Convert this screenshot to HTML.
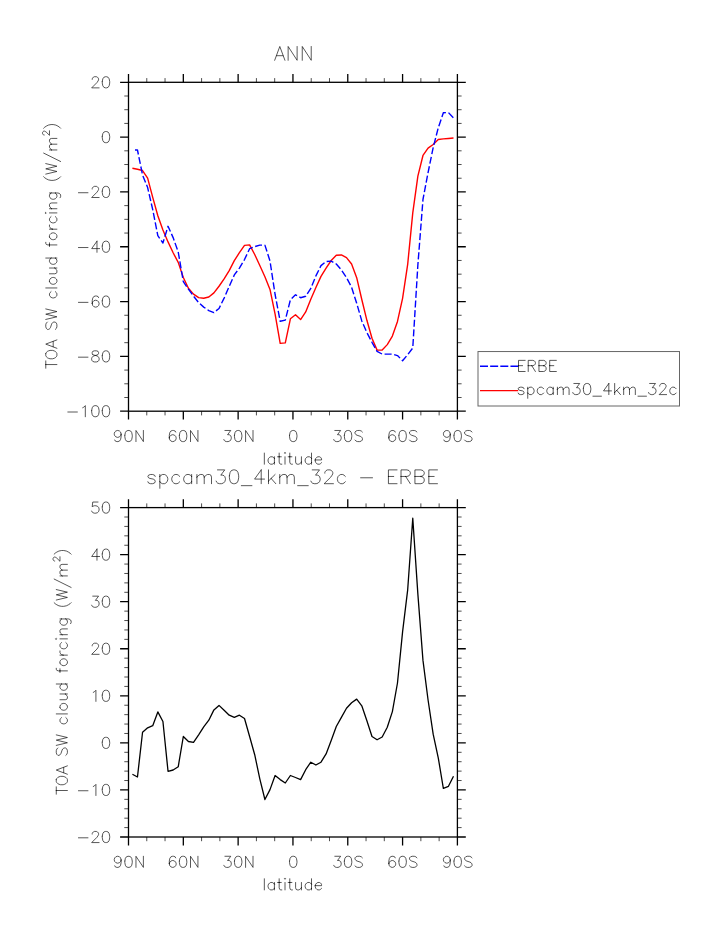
<!DOCTYPE html>
<html><head><meta charset="utf-8"><title>ANN</title>
<style>html,body{margin:0;padding:0;background:#fff}svg{display:block}body{font-family:"Liberation Sans",sans-serif}</style></head>
<body>
<svg width="723" height="935" viewBox="0 0 723 935">
<rect width="723" height="935" fill="#fff"/>
<path d="M128.50 82.30 V73.90 M128.50 411.20 V419.60 M183.32 82.30 V73.90 M183.32 411.20 V419.60 M238.13 82.30 V73.90 M238.13 411.20 V419.60 M292.95 82.30 V73.90 M292.95 411.20 V419.60 M347.77 82.30 V73.90 M347.77 411.20 V419.60 M402.58 82.30 V73.90 M402.58 411.20 V419.60 M457.40 82.30 V73.90 M457.40 411.20 V419.60 M128.50 82.30 H120.10 M457.40 82.30 H465.80 M128.50 137.12 H120.10 M457.40 137.12 H465.80 M128.50 191.93 H120.10 M457.40 191.93 H465.80 M128.50 246.75 H120.10 M457.40 246.75 H465.80 M128.50 301.57 H120.10 M457.40 301.57 H465.80 M128.50 356.38 H120.10 M457.40 356.38 H465.80 M128.50 411.20 H120.10 M457.40 411.20 H465.80" stroke="#000" stroke-width="1.3" fill="none"/>
<path d="M146.77 82.30 V78.10 M146.77 411.20 V415.40 M165.04 82.30 V78.10 M165.04 411.20 V415.40 M201.59 82.30 V78.10 M201.59 411.20 V415.40 M219.86 82.30 V78.10 M219.86 411.20 V415.40 M256.41 82.30 V78.10 M256.41 411.20 V415.40 M274.68 82.30 V78.10 M274.68 411.20 V415.40 M311.22 82.30 V78.10 M311.22 411.20 V415.40 M329.49 82.30 V78.10 M329.49 411.20 V415.40 M366.04 82.30 V78.10 M366.04 411.20 V415.40 M384.31 82.30 V78.10 M384.31 411.20 V415.40 M420.86 82.30 V78.10 M420.86 411.20 V415.40 M439.13 82.30 V78.10 M439.13 411.20 V415.40 M128.50 96.00 H124.30 M457.40 96.00 H461.60 M128.50 109.71 H124.30 M457.40 109.71 H461.60 M128.50 123.41 H124.30 M457.40 123.41 H461.60 M128.50 150.82 H124.30 M457.40 150.82 H461.60 M128.50 164.53 H124.30 M457.40 164.53 H461.60 M128.50 178.23 H124.30 M457.40 178.23 H461.60 M128.50 205.64 H124.30 M457.40 205.64 H461.60 M128.50 219.34 H124.30 M457.40 219.34 H461.60 M128.50 233.05 H124.30 M457.40 233.05 H461.60 M128.50 260.45 H124.30 M457.40 260.45 H461.60 M128.50 274.16 H124.30 M457.40 274.16 H461.60 M128.50 287.86 H124.30 M457.40 287.86 H461.60 M128.50 315.27 H124.30 M457.40 315.27 H461.60 M128.50 328.98 H124.30 M457.40 328.98 H461.60 M128.50 342.68 H124.30 M457.40 342.68 H461.60 M128.50 370.09 H124.30 M457.40 370.09 H461.60 M128.50 383.79 H124.30 M457.40 383.79 H461.60 M128.50 397.50 H124.30 M457.40 397.50 H461.60" stroke="#000" stroke-width="0.7" fill="none"/>
<rect x="128.50" y="82.30" width="328.90" height="328.90" fill="none" stroke="#000" stroke-width="1.3"/>
<path d="M92.21 79.38 L92.21 78.85 L92.74 77.79 L93.27 77.26 L94.33 76.73 L96.45 76.73 L97.51 77.26 L98.04 77.79 L98.57 78.85 L98.57 79.91 L98.04 80.97 L96.98 82.56 L91.68 87.86 L99.10 87.86 M102.28 81.50 L102.28 83.09 L102.81 85.74 L103.87 87.33 L105.46 87.86 L106.52 87.86 L108.11 87.33 L109.17 85.74 L109.70 83.09 L109.70 81.50 L109.17 78.85 L108.11 77.26 L106.52 76.73 L105.46 76.73 L103.87 77.26 L102.81 78.85 L102.28 81.50" fill="none" stroke="#000" stroke-width="0.66" stroke-linecap="round" stroke-linejoin="round"/>
<path d="M102.28 136.32 L102.28 137.91 L102.81 140.56 L103.87 142.15 L105.46 142.68 L106.52 142.68 L108.11 142.15 L109.17 140.56 L109.70 137.91 L109.70 136.32 L109.17 133.67 L108.11 132.08 L106.52 131.55 L105.46 131.55 L103.87 132.08 L102.81 133.67 L102.28 136.32" fill="none" stroke="#000" stroke-width="0.66" stroke-linecap="round" stroke-linejoin="round"/>
<path d="M78.43 192.73 L87.97 192.73 M92.21 189.02 L92.21 188.49 L92.74 187.43 L93.27 186.90 L94.33 186.37 L96.45 186.37 L97.51 186.90 L98.04 187.43 L98.57 188.49 L98.57 189.55 L98.04 190.61 L96.98 192.20 L91.68 197.50 L99.10 197.50 M102.28 191.14 L102.28 192.73 L102.81 195.38 L103.87 196.97 L105.46 197.50 L106.52 197.50 L108.11 196.97 L109.17 195.38 L109.70 192.73 L109.70 191.14 L109.17 188.49 L108.11 186.90 L106.52 186.37 L105.46 186.37 L103.87 186.90 L102.81 188.49 L102.28 191.14" fill="none" stroke="#000" stroke-width="0.66" stroke-linecap="round" stroke-linejoin="round"/>
<path d="M78.43 247.54 L87.97 247.54 M96.98 241.19 L91.68 248.60 L99.63 248.60 M96.98 241.19 L96.98 252.31 M102.28 245.95 L102.28 247.54 L102.81 250.19 L103.87 251.78 L105.46 252.31 L106.52 252.31 L108.11 251.78 L109.17 250.19 L109.70 247.54 L109.70 245.95 L109.17 243.31 L108.11 241.72 L106.52 241.19 L105.46 241.19 L103.87 241.72 L102.81 243.31 L102.28 245.95" fill="none" stroke="#000" stroke-width="0.66" stroke-linecap="round" stroke-linejoin="round"/>
<path d="M78.43 302.36 L87.97 302.36 M92.21 303.42 L92.21 300.77 L92.74 298.12 L93.80 296.53 L95.39 296.00 L96.45 296.00 L98.04 296.53 L98.57 297.59 M92.21 303.42 L92.74 305.54 L93.80 306.60 L95.39 307.13 L95.92 307.13 L97.51 306.60 L98.57 305.54 L99.10 303.95 L99.10 303.42 L98.57 301.83 L97.51 300.77 L95.92 300.24 L95.39 300.24 L93.80 300.77 L92.74 301.83 L92.21 303.42 M102.28 300.77 L102.28 302.36 L102.81 305.01 L103.87 306.60 L105.46 307.13 L106.52 307.13 L108.11 306.60 L109.17 305.01 L109.70 302.36 L109.70 300.77 L109.17 298.12 L108.11 296.53 L106.52 296.00 L105.46 296.00 L103.87 296.53 L102.81 298.12 L102.28 300.77" fill="none" stroke="#000" stroke-width="0.66" stroke-linecap="round" stroke-linejoin="round"/>
<path d="M78.43 357.18 L87.97 357.18 M92.74 354.53 L92.21 353.47 L92.21 352.41 L92.74 351.35 L94.33 350.82 L96.45 350.82 L98.04 351.35 L98.57 352.41 L98.57 353.47 L98.04 354.53 L96.98 355.06 L94.86 355.59 L93.27 356.12 L92.21 357.18 L91.68 358.24 L91.68 359.83 L92.21 360.89 L92.74 361.42 L94.33 361.95 L96.45 361.95 L98.04 361.42 L98.57 360.89 L99.10 359.83 L99.10 358.24 L98.57 357.18 L97.51 356.12 L95.92 355.59 L93.80 355.06 L92.74 354.53 M102.28 355.59 L102.28 357.18 L102.81 359.83 L103.87 361.42 L105.46 361.95 L106.52 361.95 L108.11 361.42 L109.17 359.83 L109.70 357.18 L109.70 355.59 L109.17 352.94 L108.11 351.35 L106.52 350.82 L105.46 350.82 L103.87 351.35 L102.81 352.94 L102.28 355.59" fill="none" stroke="#000" stroke-width="0.66" stroke-linecap="round" stroke-linejoin="round"/>
<path d="M67.83 412.00 L77.37 412.00 M82.67 407.75 L83.73 407.22 L85.32 405.63 L85.32 416.76 M91.68 410.40 L91.68 412.00 L92.21 414.64 L93.27 416.24 L94.86 416.76 L95.92 416.76 L97.51 416.24 L98.57 414.64 L99.10 412.00 L99.10 410.40 L98.57 407.75 L97.51 406.16 L95.92 405.63 L94.86 405.63 L93.27 406.16 L92.21 407.75 L91.68 410.40 M102.28 410.40 L102.28 412.00 L102.81 414.64 L103.87 416.24 L105.46 416.76 L106.52 416.76 L108.11 416.24 L109.17 414.64 L109.70 412.00 L109.70 410.40 L109.17 407.75 L108.11 406.16 L106.52 405.63 L105.46 405.63 L103.87 406.16 L102.81 407.75 L102.28 410.40" fill="none" stroke="#000" stroke-width="0.66" stroke-linecap="round" stroke-linejoin="round"/>
<path d="M114.76 440.01 L115.29 441.07 L116.88 441.60 L117.94 441.60 L119.53 441.07 L120.59 439.48 L121.12 436.83 L121.12 434.18 M121.12 434.18 L120.59 435.77 L119.53 436.83 L117.94 437.36 L117.41 437.36 L115.82 436.83 L114.76 435.77 L114.23 434.18 L114.23 433.65 L114.76 432.06 L115.82 431.00 L117.41 430.47 L117.94 430.47 L119.53 431.00 L120.59 432.06 L121.12 434.18 M124.83 435.24 L124.83 436.83 L125.36 439.48 L126.42 441.07 L128.01 441.60 L129.06 441.60 L130.66 441.07 L131.72 439.48 L132.25 436.83 L132.25 435.24 L131.72 432.59 L130.66 431.00 L129.06 430.47 L128.01 430.47 L126.42 431.00 L125.36 432.59 L124.83 435.24 M135.96 441.60 L135.96 430.47 L143.38 441.60 L143.38 430.47" fill="none" stroke="#000" stroke-width="0.66" stroke-linecap="round" stroke-linejoin="round"/>
<path d="M169.31 437.89 L169.31 435.24 L169.84 432.59 L170.90 431.00 L172.49 430.47 L173.55 430.47 L175.14 431.00 L175.67 432.06 M169.31 437.89 L169.84 440.01 L170.90 441.07 L172.49 441.60 L173.02 441.60 L174.61 441.07 L175.67 440.01 L176.20 438.42 L176.20 437.89 L175.67 436.30 L174.61 435.24 L173.02 434.71 L172.49 434.71 L170.90 435.24 L169.84 436.30 L169.31 437.89 M179.38 435.24 L179.38 436.83 L179.91 439.48 L180.97 441.07 L182.56 441.60 L183.62 441.60 L185.21 441.07 L186.27 439.48 L186.80 436.83 L186.80 435.24 L186.27 432.59 L185.21 431.00 L183.62 430.47 L182.56 430.47 L180.97 431.00 L179.91 432.59 L179.38 435.24 M190.51 441.60 L190.51 430.47 L197.93 441.60 L197.93 430.47" fill="none" stroke="#000" stroke-width="0.66" stroke-linecap="round" stroke-linejoin="round"/>
<path d="M223.86 439.48 L224.39 440.54 L224.92 441.07 L226.51 441.60 L228.10 441.60 L229.69 441.07 L230.75 440.01 L231.28 438.42 L231.28 437.36 L230.75 435.77 L230.22 435.24 L229.16 434.71 L227.57 434.71 L230.75 430.47 L224.92 430.47 M234.46 435.24 L234.46 436.83 L234.99 439.48 L236.05 441.07 L237.64 441.60 L238.70 441.60 L240.29 441.07 L241.35 439.48 L241.88 436.83 L241.88 435.24 L241.35 432.59 L240.29 431.00 L238.70 430.47 L237.64 430.47 L236.05 431.00 L234.99 432.59 L234.46 435.24 M245.59 441.60 L245.59 430.47 L253.01 441.60 L253.01 430.47" fill="none" stroke="#000" stroke-width="0.66" stroke-linecap="round" stroke-linejoin="round"/>
<path d="M289.54 435.24 L289.54 436.83 L290.07 439.48 L291.13 441.07 L292.72 441.60 L293.78 441.60 L295.37 441.07 L296.43 439.48 L296.96 436.83 L296.96 435.24 L296.43 432.59 L295.37 431.00 L293.78 430.47 L292.72 430.47 L291.13 431.00 L290.07 432.59 L289.54 435.24" fill="none" stroke="#000" stroke-width="0.66" stroke-linecap="round" stroke-linejoin="round"/>
<path d="M333.76 439.48 L334.29 440.54 L334.82 441.07 L336.41 441.60 L338.00 441.60 L339.59 441.07 L340.65 440.01 L341.18 438.42 L341.18 437.36 L340.65 435.77 L340.12 435.24 L339.06 434.71 L337.47 434.71 L340.65 430.47 L334.82 430.47 M344.36 435.24 L344.36 436.83 L344.89 439.48 L345.95 441.07 L347.54 441.60 L348.60 441.60 L350.19 441.07 L351.25 439.48 L351.78 436.83 L351.78 435.24 L351.25 432.59 L350.19 431.00 L348.60 430.47 L347.54 430.47 L345.95 431.00 L344.89 432.59 L344.36 435.24 M354.96 440.01 L356.02 441.07 L357.61 441.60 L359.73 441.60 L361.32 441.07 L362.38 440.01 L362.38 438.42 L361.85 437.36 L361.32 436.83 L360.26 436.30 L357.08 435.24 L356.02 434.71 L355.49 434.18 L354.96 433.12 L354.96 432.06 L356.02 431.00 L357.61 430.47 L359.73 430.47 L361.32 431.00 L362.38 432.06" fill="none" stroke="#000" stroke-width="0.66" stroke-linecap="round" stroke-linejoin="round"/>
<path d="M388.84 437.89 L388.84 435.24 L389.37 432.59 L390.43 431.00 L392.02 430.47 L393.08 430.47 L394.67 431.00 L395.20 432.06 M388.84 437.89 L389.37 440.01 L390.43 441.07 L392.02 441.60 L392.55 441.60 L394.14 441.07 L395.20 440.01 L395.73 438.42 L395.73 437.89 L395.20 436.30 L394.14 435.24 L392.55 434.71 L392.02 434.71 L390.43 435.24 L389.37 436.30 L388.84 437.89 M398.91 435.24 L398.91 436.83 L399.44 439.48 L400.50 441.07 L402.09 441.60 L403.15 441.60 L404.74 441.07 L405.80 439.48 L406.33 436.83 L406.33 435.24 L405.80 432.59 L404.74 431.00 L403.15 430.47 L402.09 430.47 L400.50 431.00 L399.44 432.59 L398.91 435.24 M409.51 440.01 L410.57 441.07 L412.16 441.60 L414.28 441.60 L415.87 441.07 L416.93 440.01 L416.93 438.42 L416.40 437.36 L415.87 436.83 L414.81 436.30 L411.63 435.24 L410.57 434.71 L410.04 434.18 L409.51 433.12 L409.51 432.06 L410.57 431.00 L412.16 430.47 L414.28 430.47 L415.87 431.00 L416.93 432.06" fill="none" stroke="#000" stroke-width="0.66" stroke-linecap="round" stroke-linejoin="round"/>
<path d="M443.92 440.01 L444.45 441.07 L446.04 441.60 L447.10 441.60 L448.69 441.07 L449.75 439.48 L450.28 436.83 L450.28 434.18 M450.28 434.18 L449.75 435.77 L448.69 436.83 L447.10 437.36 L446.57 437.36 L444.98 436.83 L443.92 435.77 L443.39 434.18 L443.39 433.65 L443.92 432.06 L444.98 431.00 L446.57 430.47 L447.10 430.47 L448.69 431.00 L449.75 432.06 L450.28 434.18 M453.99 435.24 L453.99 436.83 L454.52 439.48 L455.58 441.07 L457.17 441.60 L458.23 441.60 L459.82 441.07 L460.88 439.48 L461.41 436.83 L461.41 435.24 L460.88 432.59 L459.82 431.00 L458.23 430.47 L457.17 430.47 L455.58 431.00 L454.52 432.59 L453.99 435.24 M464.59 440.01 L465.65 441.07 L467.24 441.60 L469.36 441.60 L470.95 441.07 L472.01 440.01 L472.01 438.42 L471.48 437.36 L470.95 436.83 L469.89 436.30 L466.71 435.24 L465.65 434.71 L465.12 434.18 L464.59 433.12 L464.59 432.06 L465.65 431.00 L467.24 430.47 L469.36 430.47 L470.95 431.00 L472.01 432.06" fill="none" stroke="#000" stroke-width="0.66" stroke-linecap="round" stroke-linejoin="round"/>
<path d="M128.50 507.60 V499.20 M128.50 837.00 V845.40 M183.32 507.60 V499.20 M183.32 837.00 V845.40 M238.13 507.60 V499.20 M238.13 837.00 V845.40 M292.95 507.60 V499.20 M292.95 837.00 V845.40 M347.77 507.60 V499.20 M347.77 837.00 V845.40 M402.58 507.60 V499.20 M402.58 837.00 V845.40 M457.40 507.60 V499.20 M457.40 837.00 V845.40 M128.50 507.60 H120.10 M457.40 507.60 H465.80 M128.50 554.66 H120.10 M457.40 554.66 H465.80 M128.50 601.71 H120.10 M457.40 601.71 H465.80 M128.50 648.77 H120.10 M457.40 648.77 H465.80 M128.50 695.83 H120.10 M457.40 695.83 H465.80 M128.50 742.89 H120.10 M457.40 742.89 H465.80 M128.50 789.94 H120.10 M457.40 789.94 H465.80 M128.50 837.00 H120.10 M457.40 837.00 H465.80" stroke="#000" stroke-width="1.3" fill="none"/>
<path d="M146.77 507.60 V503.40 M146.77 837.00 V841.20 M165.04 507.60 V503.40 M165.04 837.00 V841.20 M201.59 507.60 V503.40 M201.59 837.00 V841.20 M219.86 507.60 V503.40 M219.86 837.00 V841.20 M256.41 507.60 V503.40 M256.41 837.00 V841.20 M274.68 507.60 V503.40 M274.68 837.00 V841.20 M311.22 507.60 V503.40 M311.22 837.00 V841.20 M329.49 507.60 V503.40 M329.49 837.00 V841.20 M366.04 507.60 V503.40 M366.04 837.00 V841.20 M384.31 507.60 V503.40 M384.31 837.00 V841.20 M420.86 507.60 V503.40 M420.86 837.00 V841.20 M439.13 507.60 V503.40 M439.13 837.00 V841.20 M128.50 517.01 H124.30 M457.40 517.01 H461.60 M128.50 526.42 H124.30 M457.40 526.42 H461.60 M128.50 535.83 H124.30 M457.40 535.83 H461.60 M128.50 545.25 H124.30 M457.40 545.25 H461.60 M128.50 564.07 H124.30 M457.40 564.07 H461.60 M128.50 573.48 H124.30 M457.40 573.48 H461.60 M128.50 582.89 H124.30 M457.40 582.89 H461.60 M128.50 592.30 H124.30 M457.40 592.30 H461.60 M128.50 611.13 H124.30 M457.40 611.13 H461.60 M128.50 620.54 H124.30 M457.40 620.54 H461.60 M128.50 629.95 H124.30 M457.40 629.95 H461.60 M128.50 639.36 H124.30 M457.40 639.36 H461.60 M128.50 658.18 H124.30 M457.40 658.18 H461.60 M128.50 667.59 H124.30 M457.40 667.59 H461.60 M128.50 677.01 H124.30 M457.40 677.01 H461.60 M128.50 686.42 H124.30 M457.40 686.42 H461.60 M128.50 705.24 H124.30 M457.40 705.24 H461.60 M128.50 714.65 H124.30 M457.40 714.65 H461.60 M128.50 724.06 H124.30 M457.40 724.06 H461.60 M128.50 733.47 H124.30 M457.40 733.47 H461.60 M128.50 752.30 H124.30 M457.40 752.30 H461.60 M128.50 761.71 H124.30 M457.40 761.71 H461.60 M128.50 771.12 H124.30 M457.40 771.12 H461.60 M128.50 780.53 H124.30 M457.40 780.53 H461.60 M128.50 799.35 H124.30 M457.40 799.35 H461.60 M128.50 808.77 H124.30 M457.40 808.77 H461.60 M128.50 818.18 H124.30 M457.40 818.18 H461.60 M128.50 827.59 H124.30 M457.40 827.59 H461.60" stroke="#000" stroke-width="0.7" fill="none"/>
<rect x="128.50" y="507.60" width="328.90" height="329.40" fill="none" stroke="#000" stroke-width="1.3"/>
<path d="M91.68 511.05 L92.21 512.11 L92.74 512.64 L94.33 513.17 L95.92 513.17 L97.51 512.64 L98.57 511.58 L99.10 509.99 L99.10 508.93 L98.57 507.34 L97.51 506.28 L95.92 505.75 L94.33 505.75 L92.74 506.28 L92.21 506.81 L92.74 502.04 L98.04 502.04 M102.28 506.81 L102.28 508.40 L102.81 511.05 L103.87 512.64 L105.46 513.17 L106.52 513.17 L108.11 512.64 L109.17 511.05 L109.70 508.40 L109.70 506.81 L109.17 504.16 L108.11 502.57 L106.52 502.04 L105.46 502.04 L103.87 502.57 L102.81 504.16 L102.28 506.81" fill="none" stroke="#000" stroke-width="0.66" stroke-linecap="round" stroke-linejoin="round"/>
<path d="M96.98 549.09 L91.68 556.51 L99.63 556.51 M96.98 549.09 L96.98 560.22 M102.28 553.86 L102.28 555.45 L102.81 558.10 L103.87 559.69 L105.46 560.22 L106.52 560.22 L108.11 559.69 L109.17 558.10 L109.70 555.45 L109.70 553.86 L109.17 551.21 L108.11 549.62 L106.52 549.09 L105.46 549.09 L103.87 549.62 L102.81 551.21 L102.28 553.86" fill="none" stroke="#000" stroke-width="0.66" stroke-linecap="round" stroke-linejoin="round"/>
<path d="M91.68 605.16 L92.21 606.22 L92.74 606.75 L94.33 607.28 L95.92 607.28 L97.51 606.75 L98.57 605.69 L99.10 604.10 L99.10 603.04 L98.57 601.45 L98.04 600.92 L96.98 600.39 L95.39 600.39 L98.57 596.15 L92.74 596.15 M102.28 600.92 L102.28 602.51 L102.81 605.16 L103.87 606.75 L105.46 607.28 L106.52 607.28 L108.11 606.75 L109.17 605.16 L109.70 602.51 L109.70 600.92 L109.17 598.27 L108.11 596.68 L106.52 596.15 L105.46 596.15 L103.87 596.68 L102.81 598.27 L102.28 600.92" fill="none" stroke="#000" stroke-width="0.66" stroke-linecap="round" stroke-linejoin="round"/>
<path d="M92.21 645.86 L92.21 645.33 L92.74 644.27 L93.27 643.74 L94.33 643.21 L96.45 643.21 L97.51 643.74 L98.04 644.27 L98.57 645.33 L98.57 646.39 L98.04 647.45 L96.98 649.04 L91.68 654.34 L99.10 654.34 M102.28 647.98 L102.28 649.57 L102.81 652.22 L103.87 653.81 L105.46 654.34 L106.52 654.34 L108.11 653.81 L109.17 652.22 L109.70 649.57 L109.70 647.98 L109.17 645.33 L108.11 643.74 L106.52 643.21 L105.46 643.21 L103.87 643.74 L102.81 645.33 L102.28 647.98" fill="none" stroke="#000" stroke-width="0.66" stroke-linecap="round" stroke-linejoin="round"/>
<path d="M93.27 692.38 L94.33 691.85 L95.92 690.26 L95.92 701.39 M102.28 695.03 L102.28 696.62 L102.81 699.27 L103.87 700.86 L105.46 701.39 L106.52 701.39 L108.11 700.86 L109.17 699.27 L109.70 696.62 L109.70 695.03 L109.17 692.38 L108.11 690.79 L106.52 690.26 L105.46 690.26 L103.87 690.79 L102.81 692.38 L102.28 695.03" fill="none" stroke="#000" stroke-width="0.66" stroke-linecap="round" stroke-linejoin="round"/>
<path d="M102.28 742.09 L102.28 743.68 L102.81 746.33 L103.87 747.92 L105.46 748.45 L106.52 748.45 L108.11 747.92 L109.17 746.33 L109.70 743.68 L109.70 742.09 L109.17 739.44 L108.11 737.85 L106.52 737.32 L105.46 737.32 L103.87 737.85 L102.81 739.44 L102.28 742.09" fill="none" stroke="#000" stroke-width="0.66" stroke-linecap="round" stroke-linejoin="round"/>
<path d="M78.43 790.74 L87.97 790.74 M93.27 786.50 L94.33 785.97 L95.92 784.38 L95.92 795.51 M102.28 789.15 L102.28 790.74 L102.81 793.39 L103.87 794.98 L105.46 795.51 L106.52 795.51 L108.11 794.98 L109.17 793.39 L109.70 790.74 L109.70 789.15 L109.17 786.50 L108.11 784.91 L106.52 784.38 L105.46 784.38 L103.87 784.91 L102.81 786.50 L102.28 789.15" fill="none" stroke="#000" stroke-width="0.66" stroke-linecap="round" stroke-linejoin="round"/>
<path d="M78.43 837.80 L87.97 837.80 M92.21 834.09 L92.21 833.56 L92.74 832.50 L93.27 831.97 L94.33 831.44 L96.45 831.44 L97.51 831.97 L98.04 832.50 L98.57 833.56 L98.57 834.62 L98.04 835.68 L96.98 837.27 L91.68 842.57 L99.10 842.57 M102.28 836.21 L102.28 837.80 L102.81 840.45 L103.87 842.04 L105.46 842.57 L106.52 842.57 L108.11 842.04 L109.17 840.45 L109.70 837.80 L109.70 836.21 L109.17 833.56 L108.11 831.97 L106.52 831.44 L105.46 831.44 L103.87 831.97 L102.81 833.56 L102.28 836.21" fill="none" stroke="#000" stroke-width="0.66" stroke-linecap="round" stroke-linejoin="round"/>
<path d="M114.76 865.81 L115.29 866.87 L116.88 867.40 L117.94 867.40 L119.53 866.87 L120.59 865.28 L121.12 862.63 L121.12 859.98 M121.12 859.98 L120.59 861.57 L119.53 862.63 L117.94 863.16 L117.41 863.16 L115.82 862.63 L114.76 861.57 L114.23 859.98 L114.23 859.45 L114.76 857.86 L115.82 856.80 L117.41 856.27 L117.94 856.27 L119.53 856.80 L120.59 857.86 L121.12 859.98 M124.83 861.04 L124.83 862.63 L125.36 865.28 L126.42 866.87 L128.01 867.40 L129.06 867.40 L130.66 866.87 L131.72 865.28 L132.25 862.63 L132.25 861.04 L131.72 858.39 L130.66 856.80 L129.06 856.27 L128.01 856.27 L126.42 856.80 L125.36 858.39 L124.83 861.04 M135.96 867.40 L135.96 856.27 L143.38 867.40 L143.38 856.27" fill="none" stroke="#000" stroke-width="0.66" stroke-linecap="round" stroke-linejoin="round"/>
<path d="M169.31 863.69 L169.31 861.04 L169.84 858.39 L170.90 856.80 L172.49 856.27 L173.55 856.27 L175.14 856.80 L175.67 857.86 M169.31 863.69 L169.84 865.81 L170.90 866.87 L172.49 867.40 L173.02 867.40 L174.61 866.87 L175.67 865.81 L176.20 864.22 L176.20 863.69 L175.67 862.10 L174.61 861.04 L173.02 860.51 L172.49 860.51 L170.90 861.04 L169.84 862.10 L169.31 863.69 M179.38 861.04 L179.38 862.63 L179.91 865.28 L180.97 866.87 L182.56 867.40 L183.62 867.40 L185.21 866.87 L186.27 865.28 L186.80 862.63 L186.80 861.04 L186.27 858.39 L185.21 856.80 L183.62 856.27 L182.56 856.27 L180.97 856.80 L179.91 858.39 L179.38 861.04 M190.51 867.40 L190.51 856.27 L197.93 867.40 L197.93 856.27" fill="none" stroke="#000" stroke-width="0.66" stroke-linecap="round" stroke-linejoin="round"/>
<path d="M223.86 865.28 L224.39 866.34 L224.92 866.87 L226.51 867.40 L228.10 867.40 L229.69 866.87 L230.75 865.81 L231.28 864.22 L231.28 863.16 L230.75 861.57 L230.22 861.04 L229.16 860.51 L227.57 860.51 L230.75 856.27 L224.92 856.27 M234.46 861.04 L234.46 862.63 L234.99 865.28 L236.05 866.87 L237.64 867.40 L238.70 867.40 L240.29 866.87 L241.35 865.28 L241.88 862.63 L241.88 861.04 L241.35 858.39 L240.29 856.80 L238.70 856.27 L237.64 856.27 L236.05 856.80 L234.99 858.39 L234.46 861.04 M245.59 867.40 L245.59 856.27 L253.01 867.40 L253.01 856.27" fill="none" stroke="#000" stroke-width="0.66" stroke-linecap="round" stroke-linejoin="round"/>
<path d="M289.54 861.04 L289.54 862.63 L290.07 865.28 L291.13 866.87 L292.72 867.40 L293.78 867.40 L295.37 866.87 L296.43 865.28 L296.96 862.63 L296.96 861.04 L296.43 858.39 L295.37 856.80 L293.78 856.27 L292.72 856.27 L291.13 856.80 L290.07 858.39 L289.54 861.04" fill="none" stroke="#000" stroke-width="0.66" stroke-linecap="round" stroke-linejoin="round"/>
<path d="M333.76 865.28 L334.29 866.34 L334.82 866.87 L336.41 867.40 L338.00 867.40 L339.59 866.87 L340.65 865.81 L341.18 864.22 L341.18 863.16 L340.65 861.57 L340.12 861.04 L339.06 860.51 L337.47 860.51 L340.65 856.27 L334.82 856.27 M344.36 861.04 L344.36 862.63 L344.89 865.28 L345.95 866.87 L347.54 867.40 L348.60 867.40 L350.19 866.87 L351.25 865.28 L351.78 862.63 L351.78 861.04 L351.25 858.39 L350.19 856.80 L348.60 856.27 L347.54 856.27 L345.95 856.80 L344.89 858.39 L344.36 861.04 M354.96 865.81 L356.02 866.87 L357.61 867.40 L359.73 867.40 L361.32 866.87 L362.38 865.81 L362.38 864.22 L361.85 863.16 L361.32 862.63 L360.26 862.10 L357.08 861.04 L356.02 860.51 L355.49 859.98 L354.96 858.92 L354.96 857.86 L356.02 856.80 L357.61 856.27 L359.73 856.27 L361.32 856.80 L362.38 857.86" fill="none" stroke="#000" stroke-width="0.66" stroke-linecap="round" stroke-linejoin="round"/>
<path d="M388.84 863.69 L388.84 861.04 L389.37 858.39 L390.43 856.80 L392.02 856.27 L393.08 856.27 L394.67 856.80 L395.20 857.86 M388.84 863.69 L389.37 865.81 L390.43 866.87 L392.02 867.40 L392.55 867.40 L394.14 866.87 L395.20 865.81 L395.73 864.22 L395.73 863.69 L395.20 862.10 L394.14 861.04 L392.55 860.51 L392.02 860.51 L390.43 861.04 L389.37 862.10 L388.84 863.69 M398.91 861.04 L398.91 862.63 L399.44 865.28 L400.50 866.87 L402.09 867.40 L403.15 867.40 L404.74 866.87 L405.80 865.28 L406.33 862.63 L406.33 861.04 L405.80 858.39 L404.74 856.80 L403.15 856.27 L402.09 856.27 L400.50 856.80 L399.44 858.39 L398.91 861.04 M409.51 865.81 L410.57 866.87 L412.16 867.40 L414.28 867.40 L415.87 866.87 L416.93 865.81 L416.93 864.22 L416.40 863.16 L415.87 862.63 L414.81 862.10 L411.63 861.04 L410.57 860.51 L410.04 859.98 L409.51 858.92 L409.51 857.86 L410.57 856.80 L412.16 856.27 L414.28 856.27 L415.87 856.80 L416.93 857.86" fill="none" stroke="#000" stroke-width="0.66" stroke-linecap="round" stroke-linejoin="round"/>
<path d="M443.92 865.81 L444.45 866.87 L446.04 867.40 L447.10 867.40 L448.69 866.87 L449.75 865.28 L450.28 862.63 L450.28 859.98 M450.28 859.98 L449.75 861.57 L448.69 862.63 L447.10 863.16 L446.57 863.16 L444.98 862.63 L443.92 861.57 L443.39 859.98 L443.39 859.45 L443.92 857.86 L444.98 856.80 L446.57 856.27 L447.10 856.27 L448.69 856.80 L449.75 857.86 L450.28 859.98 M453.99 861.04 L453.99 862.63 L454.52 865.28 L455.58 866.87 L457.17 867.40 L458.23 867.40 L459.82 866.87 L460.88 865.28 L461.41 862.63 L461.41 861.04 L460.88 858.39 L459.82 856.80 L458.23 856.27 L457.17 856.27 L455.58 856.80 L454.52 858.39 L453.99 861.04 M464.59 865.81 L465.65 866.87 L467.24 867.40 L469.36 867.40 L470.95 866.87 L472.01 865.81 L472.01 864.22 L471.48 863.16 L470.95 862.63 L469.89 862.10 L466.71 861.04 L465.65 860.51 L465.12 859.98 L464.59 858.92 L464.59 857.86 L465.65 856.80 L467.24 856.27 L469.36 856.27 L470.95 856.80 L472.01 857.86" fill="none" stroke="#000" stroke-width="0.66" stroke-linecap="round" stroke-linejoin="round"/>
<path d="M132.40 168.26 L137.46 169.29 L142.55 170.52 L147.64 178.16 L152.73 197.36 L157.83 215.80 L162.93 229.98 L168.03 241.91 L173.13 252.77 L178.22 262.35 L183.32 277.56 L188.42 288.26 L193.52 294.13 L198.62 297.57 L203.72 298.20 L208.82 296.98 L213.91 292.85 L219.01 286.24 L224.11 278.94 L229.21 270.61 L234.31 260.58 L239.41 252.69 L244.51 245.33 L249.61 244.92 L254.71 254.50 L259.81 265.50 L264.91 276.82 L270.00 289.43 L275.10 314.09 L280.20 343.40 L285.30 342.92 L290.40 318.80 L295.50 314.79 L300.60 319.60 L305.70 311.96 L310.80 299.24 L315.90 287.45 L320.99 276.35 L326.09 268.06 L331.19 260.50 L336.29 255.21 L341.39 254.95 L346.49 257.64 L351.59 263.99 L356.69 277.66 L361.79 299.50 L366.89 320.30 L371.99 338.30 L377.08 350.11 L382.18 350.10 L387.28 344.62 L392.38 336.07 L397.48 321.46 L402.58 298.30 L407.68 264.35 L412.77 212.83 L417.87 176.07 L422.97 155.46 L428.07 148.18 L433.17 144.44 L438.26 139.54 L443.35 138.92 L448.44 138.50 L453.50 138.02" fill="none" stroke="#f00" stroke-width="1.4" stroke-linejoin="round"/>
<path d="M132.40 150.00 L137.46 150.00 L142.55 175.00 L147.64 187.60 L152.73 209.67 L157.83 235.70 L162.93 243.00 L168.03 226.30 L173.13 237.60 L178.22 252.00 L183.32 281.58 L188.42 289.19 L193.52 296.11 L198.62 302.57 L203.72 307.12 L208.82 310.58 L213.91 312.60 L219.01 308.46 L224.11 298.12 L229.21 286.39 L234.31 274.92 L239.41 268.12 L244.51 259.53 L249.61 248.70 L254.71 246.60 L259.81 245.10 L264.91 245.10 L270.00 261.00 L275.10 294.50 L280.20 321.25 L285.30 320.09 L290.40 299.70 L295.50 294.81 L300.60 297.71 L305.70 296.25 L310.80 288.41 L315.90 275.90 L320.99 265.62 L326.09 261.49 L331.19 261.11 L336.29 264.00 L341.39 269.94 L346.49 277.66 L351.59 287.28 L356.69 303.31 L361.79 320.93 L366.89 332.55 L371.99 342.30 L377.08 351.31 L382.18 354.10 L387.28 354.10 L392.38 354.12 L397.48 355.56 L402.58 360.70 L407.68 354.63 L412.77 348.00 L417.87 264.90 L422.97 199.50 L428.07 172.51 L433.17 147.60 L438.26 127.80 L443.35 112.79 L448.44 112.55 L453.50 117.96" fill="none" stroke="#00f" stroke-width="1.4" stroke-dasharray="7.05 2.6" stroke-dashoffset="7.05" stroke-linejoin="round"/>
<path d="M132.40 774.20 L137.46 777.00 L142.55 732.30 L147.64 727.80 L152.73 725.70 L157.83 711.90 L162.93 721.50 L168.03 771.30 L173.13 770.00 L178.22 766.80 L183.32 736.50 L188.42 741.50 L193.52 742.30 L198.62 734.80 L203.72 726.80 L208.82 720.20 L213.91 709.90 L219.01 705.40 L224.11 710.20 L229.21 715.20 L234.31 717.40 L239.41 715.20 L244.51 718.50 L249.61 736.50 L254.71 754.70 L259.81 778.80 L264.91 799.50 L270.00 789.60 L275.10 775.50 L280.20 779.60 L285.30 783.00 L290.40 775.50 L295.50 777.50 L300.60 779.60 L305.70 769.70 L310.80 762.20 L315.90 765.00 L320.99 762.20 L326.09 753.90 L331.19 740.60 L336.29 726.50 L341.39 717.40 L346.49 708.30 L351.59 702.80 L356.69 699.10 L361.79 705.80 L366.89 720.70 L371.99 736.50 L377.08 739.80 L382.18 737.00 L387.28 727.30 L392.38 711.60 L397.48 683.00 L402.58 631.90 L407.68 589.80 L412.77 518.20 L417.87 594.10 L422.97 660.40 L428.07 700.00 L433.17 734.20 L438.26 757.80 L443.35 788.30 L448.44 786.30 L453.50 776.30" fill="none" stroke="#000" stroke-width="1.3" stroke-linejoin="round"/>
<rect x="478.0" y="351.55" width="201.5" height="54.45" fill="#fff" stroke="#666" stroke-width="1"/>
<path d="M480.0 366.3 H518.4" stroke="#00f" stroke-width="1.4" stroke-dasharray="8 2.15" fill="none"/>
<path d="M480.0 390.6 H518.2" stroke="#f00" stroke-width="1.4" fill="none"/>
<path d="M518.50 365.67 L518.50 371.50 L525.15 371.50 M518.50 365.67 L518.50 360.37 L525.15 360.37 M518.50 365.67 L522.59 365.67 M528.22 371.50 L528.22 365.67 M528.22 365.67 L528.22 360.37 L532.82 360.37 L534.35 360.90 L534.87 361.43 L535.38 362.49 L535.38 363.55 L534.87 364.61 L534.35 365.14 L532.82 365.67 L531.80 365.67 M528.22 365.67 L531.80 365.67 M531.80 365.67 L535.38 371.50 M538.96 365.67 L538.96 371.50 L543.56 371.50 L545.10 370.97 L545.61 370.44 L546.12 369.38 L546.12 367.79 L545.61 366.73 L545.10 366.20 L543.56 365.67 M538.96 365.67 L538.96 360.37 L543.56 360.37 L545.10 360.90 L545.61 361.43 L546.12 362.49 L546.12 363.55 L545.61 364.61 L545.10 365.14 L543.56 365.67 M538.96 365.67 L543.56 365.67 M549.70 365.67 L549.70 371.50 L556.35 371.50 M549.70 365.67 L549.70 360.37 L556.35 360.37 M549.70 365.67 L553.79 365.67" fill="none" stroke="#000" stroke-width="0.66" stroke-linecap="round" stroke-linejoin="round"/>
<path d="M518.20 393.01 L518.73 394.07 L520.32 394.60 L521.91 394.60 L523.50 394.07 L524.03 393.01 L524.03 392.48 L523.50 391.42 L522.44 390.89 L519.79 390.36 L518.73 389.83 L518.20 388.77 L518.73 387.71 L520.32 387.18 L521.91 387.18 L523.50 387.71 L524.03 388.77 M527.74 398.31 L527.74 393.01 M527.74 393.01 L527.74 388.77 M527.74 393.01 L528.80 394.07 L529.86 394.60 L531.45 394.60 L532.51 394.07 L533.57 393.01 L534.10 391.42 L534.10 390.36 L533.57 388.77 L532.51 387.71 L531.45 387.18 L529.86 387.18 L528.80 387.71 L527.74 388.77 M527.74 388.77 L527.74 387.18 M543.64 393.01 L542.58 394.07 L541.52 394.60 L539.93 394.60 L538.87 394.07 L537.81 393.01 L537.28 391.42 L537.28 390.36 L537.81 388.77 L538.87 387.71 L539.93 387.18 L541.52 387.18 L542.58 387.71 L543.64 388.77 M553.18 394.60 L553.18 393.01 M553.18 393.01 L552.12 394.07 L551.06 394.60 L549.47 394.60 L548.41 394.07 L547.35 393.01 L546.82 391.42 L546.82 390.36 L547.35 388.77 L548.41 387.71 L549.47 387.18 L551.06 387.18 L552.12 387.71 L553.18 388.77 M553.18 393.01 L553.18 388.77 M553.18 388.77 L553.18 387.18 M557.42 394.60 L557.42 389.30 M557.42 389.30 L557.42 387.18 M557.42 389.30 L559.01 387.71 L560.07 387.18 L561.66 387.18 L562.72 387.71 L563.25 389.30 M563.25 394.60 L563.25 389.30 M563.25 389.30 L564.84 387.71 L565.90 387.18 L567.49 387.18 L568.55 387.71 L569.08 389.30 L569.08 394.60 M572.79 392.48 L573.32 393.54 L573.85 394.07 L575.44 394.60 L577.03 394.60 L578.62 394.07 L579.68 393.01 L580.21 391.42 L580.21 390.36 L579.68 388.77 L579.15 388.24 L578.09 387.71 L576.50 387.71 L579.68 383.47 L573.85 383.47 M583.39 388.24 L583.39 389.83 L583.92 392.48 L584.98 394.07 L586.57 394.60 L587.63 394.60 L589.22 394.07 L590.28 392.48 L590.81 389.83 L590.81 388.24 L590.28 385.59 L589.22 384.00 L587.63 383.47 L586.57 383.47 L584.98 384.00 L583.92 385.59 L583.39 388.24 M592.93 396.19 L601.41 396.19 M608.83 383.47 L603.53 390.89 L611.48 390.89 M608.83 383.47 L608.83 394.60 M614.66 394.60 L614.66 392.48 M614.66 392.48 L614.66 383.47 M614.66 392.48 L616.78 390.36 M616.78 390.36 L619.96 387.18 M616.78 390.36 L620.49 394.60 M623.67 394.60 L623.67 389.30 M623.67 389.30 L623.67 387.18 M623.67 389.30 L625.26 387.71 L626.32 387.18 L627.91 387.18 L628.97 387.71 L629.50 389.30 M629.50 394.60 L629.50 389.30 M629.50 389.30 L631.09 387.71 L632.15 387.18 L633.74 387.18 L634.80 387.71 L635.33 389.30 L635.33 394.60 M637.98 396.19 L646.46 396.19 M648.58 392.48 L649.11 393.54 L649.64 394.07 L651.23 394.60 L652.82 394.60 L654.41 394.07 L655.47 393.01 L656.00 391.42 L656.00 390.36 L655.47 388.77 L654.94 388.24 L653.88 387.71 L652.29 387.71 L655.47 383.47 L649.64 383.47 M659.71 386.12 L659.71 385.59 L660.24 384.53 L660.77 384.00 L661.83 383.47 L663.95 383.47 L665.01 384.00 L665.54 384.53 L666.07 385.59 L666.07 386.65 L665.54 387.71 L664.48 389.30 L659.18 394.60 L666.60 394.60 M676.14 393.01 L675.08 394.07 L674.02 394.60 L672.43 394.60 L671.37 394.07 L670.31 393.01 L669.78 391.42 L669.78 390.36 L670.31 388.77 L671.37 387.71 L672.43 387.18 L674.02 387.18 L675.08 387.71 L676.14 388.77" fill="none" stroke="#000" stroke-width="0.66" stroke-linecap="round" stroke-linejoin="round"/>
<path d="M274.67 60.30 L279.80 46.48 L284.93 60.30 M276.59 55.69 L283.01 55.69 M288.14 60.30 L288.14 46.48 L297.12 60.30 L297.12 46.48 M302.25 60.30 L302.25 46.48 L311.23 60.30 L311.23 46.48" fill="none" stroke="#000" stroke-width="0.66" stroke-linecap="round" stroke-linejoin="round"/>
<path d="M147.90 481.73 L148.56 483.04 L150.55 483.70 L152.54 483.70 L154.53 483.04 L155.19 481.73 L155.19 481.07 L154.53 479.75 L153.20 479.09 L149.89 478.44 L148.56 477.78 L147.90 476.46 L148.56 475.15 L150.55 474.49 L152.54 474.49 L154.53 475.15 L155.19 476.46 M159.83 488.31 L159.83 481.73 M159.83 481.73 L159.83 476.46 M159.83 481.73 L161.15 483.04 L162.48 483.70 L164.47 483.70 L165.79 483.04 L167.12 481.73 L167.78 479.75 L167.78 478.44 L167.12 476.46 L165.79 475.15 L164.47 474.49 L162.48 474.49 L161.15 475.15 L159.83 476.46 M159.83 476.46 L159.83 474.49 M179.71 481.73 L178.38 483.04 L177.05 483.70 L175.07 483.70 L173.74 483.04 L172.42 481.73 L171.75 479.75 L171.75 478.44 L172.42 476.46 L173.74 475.15 L175.07 474.49 L177.05 474.49 L178.38 475.15 L179.71 476.46 M191.63 483.70 L191.63 481.73 M191.63 481.73 L190.31 483.04 L188.98 483.70 L186.99 483.70 L185.67 483.04 L184.34 481.73 L183.68 479.75 L183.68 478.44 L184.34 476.46 L185.67 475.15 L186.99 474.49 L188.98 474.49 L190.31 475.15 L191.63 476.46 M191.63 481.73 L191.63 476.46 M191.63 476.46 L191.63 474.49 M196.93 483.70 L196.93 477.12 M196.93 477.12 L196.93 474.49 M196.93 477.12 L198.92 475.15 L200.25 474.49 L202.23 474.49 L203.56 475.15 L204.22 477.12 M204.22 483.70 L204.22 477.12 M204.22 477.12 L206.21 475.15 L207.53 474.49 L209.52 474.49 L210.85 475.15 L211.51 477.12 L211.51 483.70 M216.15 481.07 L216.81 482.38 L217.47 483.04 L219.46 483.70 L221.45 483.70 L223.44 483.04 L224.76 481.73 L225.42 479.75 L225.42 478.44 L224.76 476.46 L224.10 475.80 L222.77 475.15 L220.79 475.15 L224.76 469.88 L217.47 469.88 M229.40 475.80 L229.40 477.78 L230.06 481.07 L231.39 483.04 L233.38 483.70 L234.70 483.70 L236.69 483.04 L238.01 481.07 L238.68 477.78 L238.68 475.80 L238.01 472.51 L236.69 470.54 L234.70 469.88 L233.38 469.88 L231.39 470.54 L230.06 472.51 L229.40 475.80 M241.33 485.67 L251.93 485.67 M261.21 469.88 L254.58 479.09 L264.52 479.09 M261.21 469.88 L261.21 483.70 M268.49 483.70 L268.49 481.07 M268.49 481.07 L268.49 469.88 M268.49 481.07 L271.14 478.44 M271.14 478.44 L275.12 474.49 M271.14 478.44 L275.78 483.70 M279.76 483.70 L279.76 477.12 M279.76 477.12 L279.76 474.49 M279.76 477.12 L281.75 475.15 L283.07 474.49 L285.06 474.49 L286.38 475.15 L287.05 477.12 M287.05 483.70 L287.05 477.12 M287.05 477.12 L289.04 475.15 L290.36 474.49 L292.35 474.49 L293.67 475.15 L294.34 477.12 L294.34 483.70 M297.65 485.67 L308.25 485.67 M310.90 481.07 L311.56 482.38 L312.23 483.04 L314.21 483.70 L316.20 483.70 L318.19 483.04 L319.51 481.73 L320.18 479.75 L320.18 478.44 L319.51 476.46 L318.85 475.80 L317.53 475.15 L315.54 475.15 L319.51 469.88 L312.23 469.88 M324.82 473.17 L324.82 472.51 L325.48 471.20 L326.14 470.54 L327.47 469.88 L330.12 469.88 L331.44 470.54 L332.10 471.20 L332.77 472.51 L332.77 473.83 L332.10 475.15 L330.78 477.12 L324.15 483.70 L333.43 483.70 M345.36 481.73 L344.03 483.04 L342.71 483.70 L340.72 483.70 L339.39 483.04 L338.07 481.73 L337.41 479.75 L337.41 478.44 L338.07 476.46 L339.39 475.15 L340.72 474.49 L342.71 474.49 L344.03 475.15 L345.36 476.46 M360.60 477.78 L372.52 477.78 M388.43 476.46 L388.43 483.70 L397.04 483.70 M388.43 476.46 L388.43 469.88 L397.04 469.88 M388.43 476.46 L393.73 476.46 M401.02 483.70 L401.02 476.46 M401.02 476.46 L401.02 469.88 L406.98 469.88 L408.97 470.54 L409.63 471.20 L410.29 472.51 L410.29 473.83 L409.63 475.15 L408.97 475.80 L406.98 476.46 L405.65 476.46 M401.02 476.46 L405.65 476.46 M405.65 476.46 L410.29 483.70 M414.93 476.46 L414.93 483.70 L420.89 483.70 L422.88 483.04 L423.54 482.38 L424.21 481.07 L424.21 479.09 L423.54 477.78 L422.88 477.12 L420.89 476.46 M414.93 476.46 L414.93 469.88 L420.89 469.88 L422.88 470.54 L423.54 471.20 L424.21 472.51 L424.21 473.83 L423.54 475.15 L422.88 475.80 L420.89 476.46 M414.93 476.46 L420.89 476.46 M428.84 476.46 L428.84 483.70 L437.46 483.70 M428.84 476.46 L428.84 469.88 L437.46 469.88 M428.84 476.46 L434.15 476.46" fill="none" stroke="#000" stroke-width="0.66" stroke-linecap="round" stroke-linejoin="round"/>
<path d="M264.33 464.20 L264.33 453.07 M274.40 464.20 L274.40 462.61 M274.40 462.61 L273.34 463.67 L272.28 464.20 L270.69 464.20 L269.63 463.67 L268.57 462.61 L268.04 461.02 L268.04 459.96 L268.57 458.37 L269.63 457.31 L270.69 456.78 L272.28 456.78 L273.34 457.31 L274.40 458.37 M274.40 462.61 L274.40 458.37 M274.40 458.37 L274.40 456.78 M277.58 456.78 L279.17 456.78 M279.17 456.78 L279.17 462.08 L279.70 463.67 L280.76 464.20 L281.82 464.20 M279.17 456.78 L279.17 453.07 M279.17 456.78 L281.29 456.78 M285.00 464.20 L285.00 456.78 M285.00 452.54 L284.47 453.07 L285.00 453.60 L285.53 453.07 L285.00 452.54 M288.18 456.78 L289.77 456.78 M289.77 456.78 L289.77 462.08 L290.30 463.67 L291.36 464.20 L292.42 464.20 M289.77 456.78 L289.77 453.07 M289.77 456.78 L291.89 456.78 M295.60 456.78 L295.60 462.08 L296.13 463.67 L297.19 464.20 L298.78 464.20 L299.84 463.67 L301.43 462.08 M301.43 464.20 L301.43 462.08 M301.43 462.08 L301.43 456.78 M311.50 464.20 L311.50 462.61 M311.50 462.61 L310.44 463.67 L309.38 464.20 L307.79 464.20 L306.73 463.67 L305.67 462.61 L305.14 461.02 L305.14 459.96 L305.67 458.37 L306.73 457.31 L307.79 456.78 L309.38 456.78 L310.44 457.31 L311.50 458.37 M311.50 462.61 L311.50 458.37 M311.50 458.37 L311.50 453.07 M315.21 459.96 L315.21 461.02 L315.74 462.61 L316.80 463.67 L317.86 464.20 L319.45 464.20 L320.51 463.67 L321.57 462.61 M315.21 459.96 L315.74 458.37 L316.80 457.31 L317.86 456.78 L319.45 456.78 L320.51 457.31 L321.04 457.84 L321.57 458.90 L321.57 459.96 L315.21 459.96" fill="none" stroke="#000" stroke-width="0.66" stroke-linecap="round" stroke-linejoin="round"/>
<path d="M264.33 889.90 L264.33 878.77 M274.40 889.90 L274.40 888.31 M274.40 888.31 L273.34 889.37 L272.28 889.90 L270.69 889.90 L269.63 889.37 L268.57 888.31 L268.04 886.72 L268.04 885.66 L268.57 884.07 L269.63 883.01 L270.69 882.48 L272.28 882.48 L273.34 883.01 L274.40 884.07 M274.40 888.31 L274.40 884.07 M274.40 884.07 L274.40 882.48 M277.58 882.48 L279.17 882.48 M279.17 882.48 L279.17 887.78 L279.70 889.37 L280.76 889.90 L281.82 889.90 M279.17 882.48 L279.17 878.77 M279.17 882.48 L281.29 882.48 M285.00 889.90 L285.00 882.48 M285.00 878.24 L284.47 878.77 L285.00 879.30 L285.53 878.77 L285.00 878.24 M288.18 882.48 L289.77 882.48 M289.77 882.48 L289.77 887.78 L290.30 889.37 L291.36 889.90 L292.42 889.90 M289.77 882.48 L289.77 878.77 M289.77 882.48 L291.89 882.48 M295.60 882.48 L295.60 887.78 L296.13 889.37 L297.19 889.90 L298.78 889.90 L299.84 889.37 L301.43 887.78 M301.43 889.90 L301.43 887.78 M301.43 887.78 L301.43 882.48 M311.50 889.90 L311.50 888.31 M311.50 888.31 L310.44 889.37 L309.38 889.90 L307.79 889.90 L306.73 889.37 L305.67 888.31 L305.14 886.72 L305.14 885.66 L305.67 884.07 L306.73 883.01 L307.79 882.48 L309.38 882.48 L310.44 883.01 L311.50 884.07 M311.50 888.31 L311.50 884.07 M311.50 884.07 L311.50 878.77 M315.21 885.66 L315.21 886.72 L315.74 888.31 L316.80 889.37 L317.86 889.90 L319.45 889.90 L320.51 889.37 L321.57 888.31 M315.21 885.66 L315.74 884.07 L316.80 883.01 L317.86 882.48 L319.45 882.48 L320.51 883.01 L321.04 883.54 L321.57 884.60 L321.57 885.66 L315.21 885.66" fill="none" stroke="#000" stroke-width="0.66" stroke-linecap="round" stroke-linejoin="round"/>
<path d="M45.77 368.24 L45.77 364.56 M56.90 364.56 L45.77 364.56 M45.77 364.56 L45.77 360.89 M45.77 353.54 L45.77 355.64 L46.30 356.69 L47.36 357.74 L48.42 358.27 L50.01 358.79 L52.66 358.79 L54.25 358.27 L55.31 357.74 L56.37 356.69 L56.90 355.64 L56.90 353.54 L56.37 352.49 L55.31 351.44 L54.25 350.92 L52.66 350.40 L50.01 350.40 L48.42 350.92 L47.36 351.44 L46.30 352.49 L45.77 353.54 M56.90 348.30 L45.77 344.10 L56.90 339.90 M53.19 346.72 L53.19 341.48 M55.31 329.41 L56.37 328.36 L56.90 326.78 L56.90 324.69 L56.37 323.11 L55.31 322.06 L53.72 322.06 L52.66 322.59 L52.13 323.11 L51.60 324.16 L50.54 327.31 L50.01 328.36 L49.48 328.88 L48.42 329.41 L47.36 329.41 L46.30 328.36 L45.77 326.78 L45.77 324.69 L46.30 323.11 L47.36 322.06 M45.77 319.44 L56.90 316.81 L45.77 314.19 L56.90 311.57 L45.77 308.94 M55.31 291.63 L56.37 292.68 L56.90 293.73 L56.90 295.30 L56.37 296.35 L55.31 297.40 L53.72 297.93 L52.66 297.93 L51.07 297.40 L50.01 296.35 L49.48 295.30 L49.48 293.73 L50.01 292.68 L51.07 291.63 M56.90 287.96 L45.77 287.96 M49.48 281.66 L50.01 282.71 L51.07 283.76 L52.66 284.28 L53.72 284.28 L55.31 283.76 L56.37 282.71 L56.90 281.66 L56.90 280.09 L56.37 279.04 L55.31 277.99 L53.72 277.46 L52.66 277.46 L51.07 277.99 L50.01 279.04 L49.48 280.09 L49.48 281.66 M49.48 273.79 L54.78 273.79 L56.37 273.26 L56.90 272.22 L56.90 270.64 L56.37 269.59 L54.78 268.02 M56.90 268.02 L54.78 268.02 M54.78 268.02 L49.48 268.02 M56.90 258.05 L55.31 258.05 M55.31 258.05 L56.37 259.10 L56.90 260.15 L56.90 261.72 L56.37 262.77 L55.31 263.82 L53.72 264.34 L52.66 264.34 L51.07 263.82 L50.01 262.77 L49.48 261.72 L49.48 260.15 L50.01 259.10 L51.07 258.05 M55.31 258.05 L51.07 258.05 M51.07 258.05 L45.77 258.05 M49.48 246.50 L49.48 244.93 M56.90 244.93 L49.48 244.93 M49.48 244.93 L47.89 244.93 L46.30 244.41 L45.77 243.36 L45.77 242.31 M49.48 244.93 L49.48 242.83 M49.48 237.06 L50.01 238.11 L51.07 239.16 L52.66 239.68 L53.72 239.68 L55.31 239.16 L56.37 238.11 L56.90 237.06 L56.90 235.49 L56.37 234.44 L55.31 233.39 L53.72 232.86 L52.66 232.86 L51.07 233.39 L50.01 234.44 L49.48 235.49 L49.48 237.06 M56.90 229.19 L52.66 229.19 M52.66 229.19 L49.48 229.19 M52.66 229.19 L51.07 228.67 L50.01 227.62 L49.48 226.57 L49.48 224.99 M55.31 216.60 L56.37 217.65 L56.90 218.70 L56.90 220.27 L56.37 221.32 L55.31 222.37 L53.72 222.89 L52.66 222.89 L51.07 222.37 L50.01 221.32 L49.48 220.27 L49.48 218.70 L50.01 217.65 L51.07 216.60 M56.90 212.92 L49.48 212.92 M45.24 212.92 L45.77 213.45 L46.30 212.92 L45.77 212.40 L45.24 212.92 M56.90 208.73 L51.60 208.73 M51.60 208.73 L49.48 208.73 M51.60 208.73 L50.01 207.15 L49.48 206.10 L49.48 204.53 L50.01 203.48 L51.60 202.95 L56.90 202.95 M60.08 197.71 L60.61 196.66 L60.61 195.08 L60.08 194.03 L59.55 193.51 L57.96 192.99 L55.31 192.99 M55.31 192.99 L56.37 194.03 L56.90 195.08 L56.90 196.66 L56.37 197.71 L55.31 198.76 L53.72 199.28 L52.66 199.28 L51.07 198.76 L50.01 197.71 L49.48 196.66 L49.48 195.08 L50.01 194.03 L51.07 192.99 M55.31 192.99 L51.07 192.99 M51.07 192.99 L49.48 192.99 M60.61 176.72 L59.55 177.77 L57.96 178.82 L55.84 179.87 L53.19 180.39 L51.07 180.39 L48.42 179.87 L46.30 178.82 L44.71 177.77 L43.65 176.72 M45.77 174.10 L56.90 171.47 L45.77 168.85 L56.90 166.23 L45.77 163.60 M60.61 161.50 L43.65 153.11 M56.90 149.96 L51.60 149.96 M51.60 149.96 L49.48 149.96 M51.60 149.96 L50.01 148.39 L49.48 147.34 L49.48 145.76 L50.01 144.71 L51.60 144.19 M56.90 144.19 L51.60 144.19 M51.60 144.19 L50.01 142.61 L49.48 141.56 L49.48 139.99 L50.01 138.94 L51.60 138.42 L56.90 138.42 M44.22 135.02 L43.89 135.02 L43.24 134.69 L42.91 134.37 L42.58 133.72 L42.58 132.41 L42.91 131.76 L43.24 131.44 L43.89 131.11 L44.55 131.11 L45.21 131.44 L46.19 132.09 L49.48 135.34 L49.48 130.79 M60.61 128.24 L59.55 127.19 L57.96 126.14 L55.84 125.09 L53.19 124.56 L51.07 124.56 L48.42 125.09 L46.30 126.14 L44.71 127.19 L43.65 128.24" fill="none" stroke="#000" stroke-width="0.66" stroke-linecap="round" stroke-linejoin="round"/>
<path d="M56.27 794.19 L56.27 790.51 M67.40 790.51 L56.27 790.51 M56.27 790.51 L56.27 786.84 M56.27 779.49 L56.27 781.59 L56.80 782.64 L57.86 783.69 L58.92 784.22 L60.51 784.74 L63.16 784.74 L64.75 784.22 L65.81 783.69 L66.87 782.64 L67.40 781.59 L67.40 779.49 L66.87 778.44 L65.81 777.39 L64.75 776.87 L63.16 776.35 L60.51 776.35 L58.92 776.87 L57.86 777.39 L56.80 778.44 L56.27 779.49 M67.40 774.25 L56.27 770.05 L67.40 765.85 M63.69 772.67 L63.69 767.43 M65.81 755.36 L66.87 754.31 L67.40 752.73 L67.40 750.64 L66.87 749.06 L65.81 748.01 L64.22 748.01 L63.16 748.54 L62.63 749.06 L62.10 750.11 L61.04 753.26 L60.51 754.31 L59.98 754.83 L58.92 755.36 L57.86 755.36 L56.80 754.31 L56.27 752.73 L56.27 750.64 L56.80 749.06 L57.86 748.01 M56.27 745.39 L67.40 742.76 L56.27 740.14 L67.40 737.52 L56.27 734.89 M65.81 717.58 L66.87 718.63 L67.40 719.68 L67.40 721.25 L66.87 722.30 L65.81 723.35 L64.22 723.88 L63.16 723.88 L61.57 723.35 L60.51 722.30 L59.98 721.25 L59.98 719.68 L60.51 718.63 L61.57 717.58 M67.40 713.91 L56.27 713.91 M59.98 707.61 L60.51 708.66 L61.57 709.71 L63.16 710.23 L64.22 710.23 L65.81 709.71 L66.87 708.66 L67.40 707.61 L67.40 706.04 L66.87 704.99 L65.81 703.94 L64.22 703.41 L63.16 703.41 L61.57 703.94 L60.51 704.99 L59.98 706.04 L59.98 707.61 M59.98 699.74 L65.28 699.74 L66.87 699.21 L67.40 698.17 L67.40 696.59 L66.87 695.54 L65.28 693.97 M67.40 693.97 L65.28 693.97 M65.28 693.97 L59.98 693.97 M67.40 684.00 L65.81 684.00 M65.81 684.00 L66.87 685.05 L67.40 686.10 L67.40 687.67 L66.87 688.72 L65.81 689.77 L64.22 690.29 L63.16 690.29 L61.57 689.77 L60.51 688.72 L59.98 687.67 L59.98 686.10 L60.51 685.05 L61.57 684.00 M65.81 684.00 L61.57 684.00 M61.57 684.00 L56.27 684.00 M59.98 672.45 L59.98 670.88 M67.40 670.88 L59.98 670.88 M59.98 670.88 L58.39 670.88 L56.80 670.36 L56.27 669.31 L56.27 668.26 M59.98 670.88 L59.98 668.78 M59.98 663.01 L60.51 664.06 L61.57 665.11 L63.16 665.63 L64.22 665.63 L65.81 665.11 L66.87 664.06 L67.40 663.01 L67.40 661.44 L66.87 660.39 L65.81 659.34 L64.22 658.81 L63.16 658.81 L61.57 659.34 L60.51 660.39 L59.98 661.44 L59.98 663.01 M67.40 655.14 L63.16 655.14 M63.16 655.14 L59.98 655.14 M63.16 655.14 L61.57 654.62 L60.51 653.57 L59.98 652.52 L59.98 650.94 M65.81 642.55 L66.87 643.60 L67.40 644.65 L67.40 646.22 L66.87 647.27 L65.81 648.32 L64.22 648.84 L63.16 648.84 L61.57 648.32 L60.51 647.27 L59.98 646.22 L59.98 644.65 L60.51 643.60 L61.57 642.55 M67.40 638.87 L59.98 638.87 M55.74 638.87 L56.27 639.40 L56.80 638.87 L56.27 638.35 L55.74 638.87 M67.40 634.68 L62.10 634.68 M62.10 634.68 L59.98 634.68 M62.10 634.68 L60.51 633.10 L59.98 632.05 L59.98 630.48 L60.51 629.43 L62.10 628.90 L67.40 628.90 M70.58 623.66 L71.11 622.61 L71.11 621.03 L70.58 619.98 L70.05 619.46 L68.46 618.94 L65.81 618.94 M65.81 618.94 L66.87 619.98 L67.40 621.03 L67.40 622.61 L66.87 623.66 L65.81 624.71 L64.22 625.23 L63.16 625.23 L61.57 624.71 L60.51 623.66 L59.98 622.61 L59.98 621.03 L60.51 619.98 L61.57 618.94 M65.81 618.94 L61.57 618.94 M61.57 618.94 L59.98 618.94 M71.11 602.67 L70.05 603.72 L68.46 604.77 L66.34 605.82 L63.69 606.34 L61.57 606.34 L58.92 605.82 L56.80 604.77 L55.21 603.72 L54.15 602.67 M56.27 600.05 L67.40 597.42 L56.27 594.80 L67.40 592.18 L56.27 589.55 M71.11 587.45 L54.15 579.06 M67.40 575.91 L62.10 575.91 M62.10 575.91 L59.98 575.91 M62.10 575.91 L60.51 574.34 L59.98 573.29 L59.98 571.71 L60.51 570.66 L62.10 570.14 M67.40 570.14 L62.10 570.14 M62.10 570.14 L60.51 568.56 L59.98 567.51 L59.98 565.94 L60.51 564.89 L62.10 564.37 L67.40 564.37 M54.72 560.97 L54.39 560.97 L53.74 560.64 L53.41 560.32 L53.08 559.67 L53.08 558.36 L53.41 557.71 L53.74 557.39 L54.39 557.06 L55.05 557.06 L55.71 557.39 L56.69 558.04 L59.98 561.29 L59.98 556.74 M71.11 554.19 L70.05 553.14 L68.46 552.09 L66.34 551.04 L63.69 550.51 L61.57 550.51 L58.92 551.04 L56.80 552.09 L55.21 553.14 L54.15 554.19" fill="none" stroke="#000" stroke-width="0.66" stroke-linecap="round" stroke-linejoin="round"/>
</svg>
</body></html>
